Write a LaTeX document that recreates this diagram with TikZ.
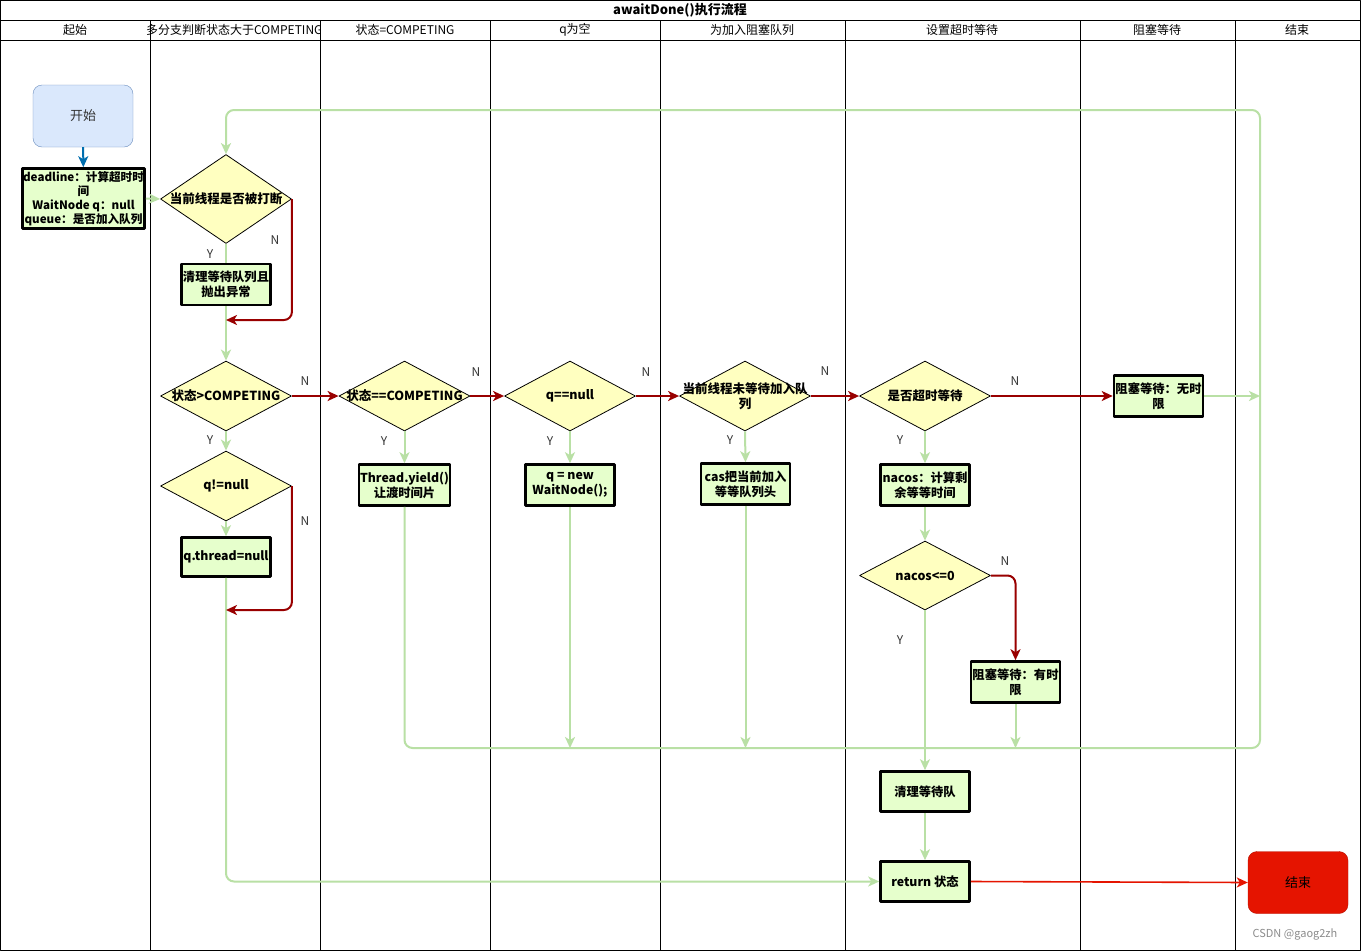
\documentclass[tikz,border=0pt]{standalone}
\usepackage{fontspec}
\setmainfont{Noto Sans CJK SC}
\usepackage{xcolor}
\usetikzlibrary{positioning, arrows.meta, shapes.geometric}

\definecolor{startfill}{HTML}{DAE8FC}
\definecolor{startdraw}{HTML}{6C8EBF}
\definecolor{boxfill}{HTML}{E6FFCC}
\definecolor{diafill}{HTML}{FFFFC0}
\definecolor{flowgreen}{HTML}{B9E0A5}
\definecolor{flowred}{HTML}{990000}
\definecolor{endred}{HTML}{E51400}
\definecolor{flowblue}{HTML}{006EAF}

\tikzset{every picture/.append style={line join=round}}
\tikzset{
    process/.style={rectangle, draw=black, line width=2.6pt, fill=boxfill,
        font=\bfseries\fontsize{12.3}{15}\selectfont,
        align=center, minimum width=89pt, minimum height=41pt, inner sep=1pt},
    decision/.style={diamond, draw=black, line width=0.8pt, fill=diafill,
        minimum width=131pt, minimum height=70pt, inner sep=0pt},
    dtext/.style={font=\bfseries\fontsize{12.5}{15}\selectfont, align=center},
    terminal/.style={rectangle, rounded corners=9pt, minimum width=100pt, minimum height=62pt,
        font=\fontsize{13}{15}\selectfont},
    yesline/.style={draw=flowgreen, line width=2pt, rounded corners=8pt,
        -{Stealth[length=11pt, width=10pt, inset=3pt]}},
    noline/.style={draw=flowred, line width=2pt, rounded corners=8pt,
        -{Stealth[length=11pt, width=10pt, inset=3pt]}},
    yn/.style={text=black!80, font=\fontsize{12}{14}\selectfont},
    lanehead/.style={font=\fontsize{12}{14}\selectfont},
}

\begin{document}
\begin{tikzpicture}[x=1pt, y=-1pt, >=Stealth]
    % --- Frame and swim lanes ---
    \useasboundingbox (0,0) rectangle (1361,951);
    \fill[white] (0,0) rectangle (1361,951);
    \draw[line width=1pt] (0.5,0.5) rectangle (1360.5,950.5);
    \draw[line width=0.8pt] (0,20) -- (1361,20);
    \draw[line width=0.8pt] (0,40) -- (1361,40);
    \foreach \x in {150, 320, 490, 660, 845, 1080, 1235}
        \draw[line width=0.8pt] (\x,20) -- (\x,951);

    \node[font=\bfseries\fontsize{13}{15}\selectfont] (title) at (680,10) {awaitDone()执行流程};
    \foreach \x/\t/\n in {75/起始/a, 405/状态=COMPETING/c, 575/q为空/d,
        752/为加入阻塞队列/e, 962/设置超时等待/f, 1157/阻塞等待/g, 1297/结束/h}
        \node[lanehead] (h\n) at (\x,30) {\t};
    \begin{scope}
        \clip (0,20) rectangle (319.5,40);
        \node[lanehead, anchor=west, inner sep=0pt] (hb) at (146,30) {多分支判断状态大于COMPETING};
    \end{scope}

    % --- Start lane ---
    \node[terminal, draw=startdraw, fill=startfill, text=black!80] (start) at (83,116) {开始};
    \node[process, minimum width=122pt, minimum height=60pt, inner sep=0pt,
        font=\bfseries\fontsize{11.6}{14.2}\selectfont] (init) at (83.5,198.5)
        {deadline：计算超时时\\间\\WaitNode q：null\\queue：是否加入队列};
    \draw[flowblue, line width=2pt, -{Stealth[length=11pt, width=10pt, inset=3pt]}] (start) -- (init);

    % --- Branch lane ---
    \node[decision, minimum height=89pt, label={[dtext]center:当前线程是否被打断}] (d1) at (226,199) {};
    \node[process] (clr) at (226,284.5) {清理等待队列且\\抛出异常};
    \node[decision, label={[dtext]center:状态>COMPETING}] (d2) at (226,396) {};
    \node[decision, label={[dtext]center:q!=null}] (d4) at (226,486) {};
    \node[process, minimum height=39pt] (qth) at (226,557) {q.thread=null};
    \coordinate (j1) at (226,320);
    \coordinate (j2) at (226,610);

    % --- Other lanes ---
    \node[decision, label={[dtext]center:状态==COMPETING}] (d3) at (404.5,396) {};
    \node[process] (t1) at (404.5,485) {Thread.yield()\\让渡时间片};
    \node[decision, label={[dtext]center:q==null}] (d5) at (570,396) {};
    \node[process] (qnew) at (570,485) {q = new\\WaitNode();};
    \node[decision, label={[dtext]center:{当前线程未等待加入队\\列}}] (d6) at (745,396) {};
    \node[process] (cas) at (745.5,484) {cas把当前加入\\等等队列头};
    \node[decision, label={[dtext]center:是否超时等待}] (d7) at (925,396) {};
    \node[process] (nacos) at (925,485) {nacos：计算剩\\余等等时间};
    \node[decision, minimum height=69pt, label={[dtext]center:nacos<=0}] (d8) at (925,575.5) {};
    \node[process] (bw2) at (1015.5,682) {阻塞等待：有时\\限};
    \node[process] (bw1) at (1158.5,396) {阻塞等待：无时\\限};
    \node[process, minimum height=40pt] (clean) at (925,791.5) {清理等待队};
    \node[process, minimum height=40pt] (ret) at (925,881.5) {return 状态};
    \node[terminal, draw=endred!80!black, fill=endred] (end) at (1298,882.5) {结束};

    % --- Loop back coordinates ---
    \coordinate (loopse) at (1260,748);
    \coordinate (loopne) at (1260,110);

    % --- Y connectors ---
    \draw[yesline] (init.east) -- (d1.west);
    \draw[draw=flowgreen, line width=2pt] (d1.south) -- (clr.north);
    \draw[yesline] (clr.south) -- (d2.north);
    \draw[yesline] (d2.south) -- (d4.north);
    \draw[yesline] (d4.south) -- (qth.north);
    \draw[yesline] (qth.south) |- (ret.west);
    \draw[yesline] (d3.south) -- (t1.north);
    \draw[yesline] (d5.south) -- (qnew.north);
    \draw[yesline] (d6.south) -- (cas.north);
    \draw[yesline] (d7.south) -- (nacos.north);
    \draw[yesline] (nacos.south) -- (d8.north);
    \draw[yesline] (d8.south) -- (clean.north);
    \draw[yesline] (clean.south) -- (ret.north);
    \draw[yesline] (t1.south) -- (t1.south |- loopse) -- (loopse) -- (loopne) -- (loopne -| d1) -- (d1.north);
    \draw[yesline] (qnew.south) -- (qnew.south |- loopse);
    \draw[yesline] (cas.south) -- (cas.south |- loopse);
    \draw[yesline] (bw2.south) -- (bw2.south |- loopse);
    \draw[yesline] (bw1.east) -- (bw1.east -| loopse);

    % --- N connectors ---
    \draw[noline] (d1.east) |- (j1);
    \draw[noline] (d4.east) |- (j2);
    \draw[noline] (d2.east) -- (d3.west);
    \draw[noline] (d3.east) -- (d5.west);
    \draw[noline] (d5.east) -- (d6.west);
    \draw[noline] (d6.east) -- (d7.west);
    \draw[noline] (d7.east) -- (bw1.west);
    \draw[noline] (d8.east) -| (bw2.north);
    \draw[noline, draw=endred, line width=1.6pt] (ret.east) -- (end.west);

    % --- Y / N labels ---
    \foreach \x/\y/\t/\n in {210/254/Y/y1, 275/240/N/n1, 305/381/N/n2, 210/440/Y/y2,
        305/521/N/n4, 476/372/N/n3, 384/441/Y/y3, 646/372/N/n5, 550/441/Y/y5,
        825/371/N/n6, 730/440/Y/y6, 1015/381/N/n7, 900/440/Y/y7, 1005/561/N/n8, 900/640/Y/y8}
        \node[yn] (\n) at (\x,\y) {\t};

    \node[text=black!45, font=\fontsize{11}{13}\selectfont] (mark) at (1295,934) {CSDN @gaog2zh};
\end{tikzpicture}
\end{document}
